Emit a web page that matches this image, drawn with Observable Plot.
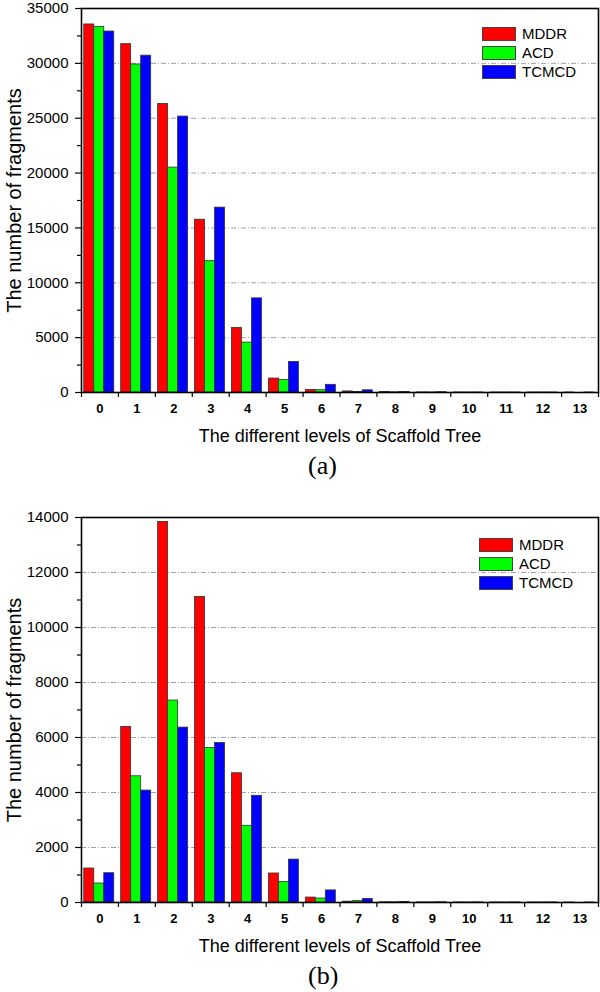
<!DOCTYPE html>
<html>
<head>
<meta charset="utf-8">
<script src="https://cdn.jsdelivr.net/npm/d3@7"></script>
<script src="https://cdn.jsdelivr.net/npm/@observablehq/plot@0.6"></script>
<style>
  html, body { margin: 0; padding: 0; background: #fff; }
  body { width: 600px; height: 992px; overflow: hidden; font-family: "Liberation Sans", Arial, sans-serif; }
  .panel { position: relative; width: 600px; }
  .panel svg { overflow: visible; display: block; }
  .cap { font-family: "Liberation Serif", "Times New Roman", serif; font-size: 26px; height: 32px; line-height: 32px; padding-left: 308px; color: #000; }
  .legend { position: absolute; font-size: 15px; color: #000; }
  .legend .row { display: flex; align-items: center; height: 19px; }
  .legend .sw { width: 32px; height: 12px; border: 1px solid #444; margin-right: 6px; }
</style>
</head>
<body>
<div class="panel" id="pa"></div>
<div class="cap">(a)</div>
<div class="panel" id="pb"></div>
<div class="cap">(b)</div>
<script>
// ---- data ----
const levels = [0, 1, 2, 3, 4, 5, 6, 7, 8, 9, 10, 11, 12, 13];
const seriesNames = ["MDDR", "ACD", "TCMCD"];
const seriesColors = ["#ff0000", "#00ff00", "#0000ff"];

// (a)
const mddrA  = [33545, 31750, 26300, 15750, 5880, 1270, 240, 100, 40, 10, 3, 2, 1, 1];
const acdA   = [33330, 29900, 20500, 11970, 4550, 1150, 210, 50, 20, 5, 2, 1, 1, 0];
const tcmcdA = [32900, 30700, 25150, 16850, 8580, 2790, 700, 200, 50, 30, 5, 2, 1, 1];
const yTicksA = [0, 5000, 10000, 15000, 20000, 25000, 30000, 35000];
const yMinorA = [2500, 7500, 12500, 17500, 22500, 27500, 32500];
const gridA = [5000, 10000, 15000, 20000, 25000, 30000];

// (b)
const mddrB  = [1236, 6385, 13840, 11110, 4700, 1055, 180, 30, 10, 5, 3, 2, 2, 1];
const acdB   = [690, 4590, 7345, 5620, 2790, 750, 145, 50, 10, 5, 2, 1, 1, 0];
const tcmcdB = [1065, 4070, 6360, 5800, 3880, 1560, 440, 130, 20, 10, 5, 3, 3, 1];
const yTicksB = [0, 2000, 4000, 6000, 8000, 10000, 12000, 14000];
const yMinorB = [1000, 3000, 5000, 7000, 9000, 11000, 13000];
const gridB = [2000, 4000, 6000, 8000, 10000, 12000];

const xBoundaries = [-0.5, ...levels.map(l => l + 0.5)];
const xTitle = "The different levels of Scaffold Tree";
const yTitle = "The number of fragments";

function makeChart({series, yMax, yTicks, yMinor, grid, height, marginTop}) {
  const barW = 10;
  const unit = (600 - 81 - 2) / 14;
  const inset = (unit - barW) / 2;
  const barMarks = series.map((vals, i) =>
    Plot.rectY(levels.map((l, j) => ({level: l, value: vals[j]})), {
      x1: d => d.level - 0.5,
      x2: d => d.level + 0.5,
      y: "value",
      insetLeft: inset,
      insetRight: inset,
      dx: (i - 1) * barW - 0.7,
      fill: seriesColors[i],
      stroke: "#333",
      strokeWidth: 0.8
    })
  );
  return Plot.plot({
    width: 600,
    height,
    marginTop,
    marginBottom: 58,
    marginLeft: 81,
    marginRight: 2,
    style: {fontFamily: "Liberation Sans, Arial, sans-serif", color: "#000", background: "#fff", overflow: "visible"},
    x: {type: "linear", domain: [-0.5, 13.5]},
    y: {domain: [0, yMax]},
    marks: [
      Plot.ruleY(grid, {stroke: "#8a8a8a", strokeWidth: 0.8, strokeDasharray: "5,2,1,2"}),
      ...barMarks,
      Plot.axisX({ticks: levels, tickSize: 0, tickPadding: 11, fontSize: 13, fontWeight: "bold", label: null}),
      Plot.axisX({ticks: xBoundaries, tickSize: 5, tickFormat: () => "", label: null, strokeWidth: 1.2}),
      Plot.axisY({ticks: yTicks, tickSize: 6, tickPadding: 7, fontSize: 15, label: null, strokeWidth: 1.2, tickFormat: d3.format("d")}),
      Plot.axisY({ticks: yMinor, tickSize: 4, tickFormat: () => "", label: null, strokeWidth: 1.2}),
      Plot.frame({stroke: "#000", strokeWidth: 1.6}),
      Plot.text([xTitle], {frameAnchor: "bottom", lineAnchor: "middle", textAnchor: "middle", dy: 44, fontSize: 18, fill: "#000"}),
      Plot.text([yTitle], {frameAnchor: "left", lineAnchor: "middle", textAnchor: "middle", rotate: -90, dx: -67, fontSize: 20, fill: "#000"})
    ]
  });
}

function legend(left, top) {
  const el = document.createElement("div");
  el.className = "legend";
  el.style.left = left + "px";
  el.style.top = top + "px";
  seriesNames.forEach((n, i) => {
    const row = document.createElement("div");
    row.className = "row";
    const sw = document.createElement("div");
    sw.className = "sw";
    sw.style.background = seriesColors[i];
    const t = document.createElement("span");
    t.textContent = n;
    row.appendChild(sw);
    row.appendChild(t);
    el.appendChild(row);
  });
  return el;
}

const pa = document.getElementById("pa");
pa.appendChild(makeChart({series: [mddrA, acdA, tcmcdA], yMax: 35000, yTicks: yTicksA, yMinor: yMinorA, grid: gridA, height: 450, marginTop: 8}));
pa.appendChild(legend(482, 24));

const pb = document.getElementById("pb");
pb.appendChild(makeChart({series: [mddrB, acdB, tcmcdB], yMax: 14000, yTicks: yTicksB, yMinor: yMinorB, grid: gridB, height: 478, marginTop: 35}));
pb.appendChild(legend(479, 53));
</script>
</body>
</html>
